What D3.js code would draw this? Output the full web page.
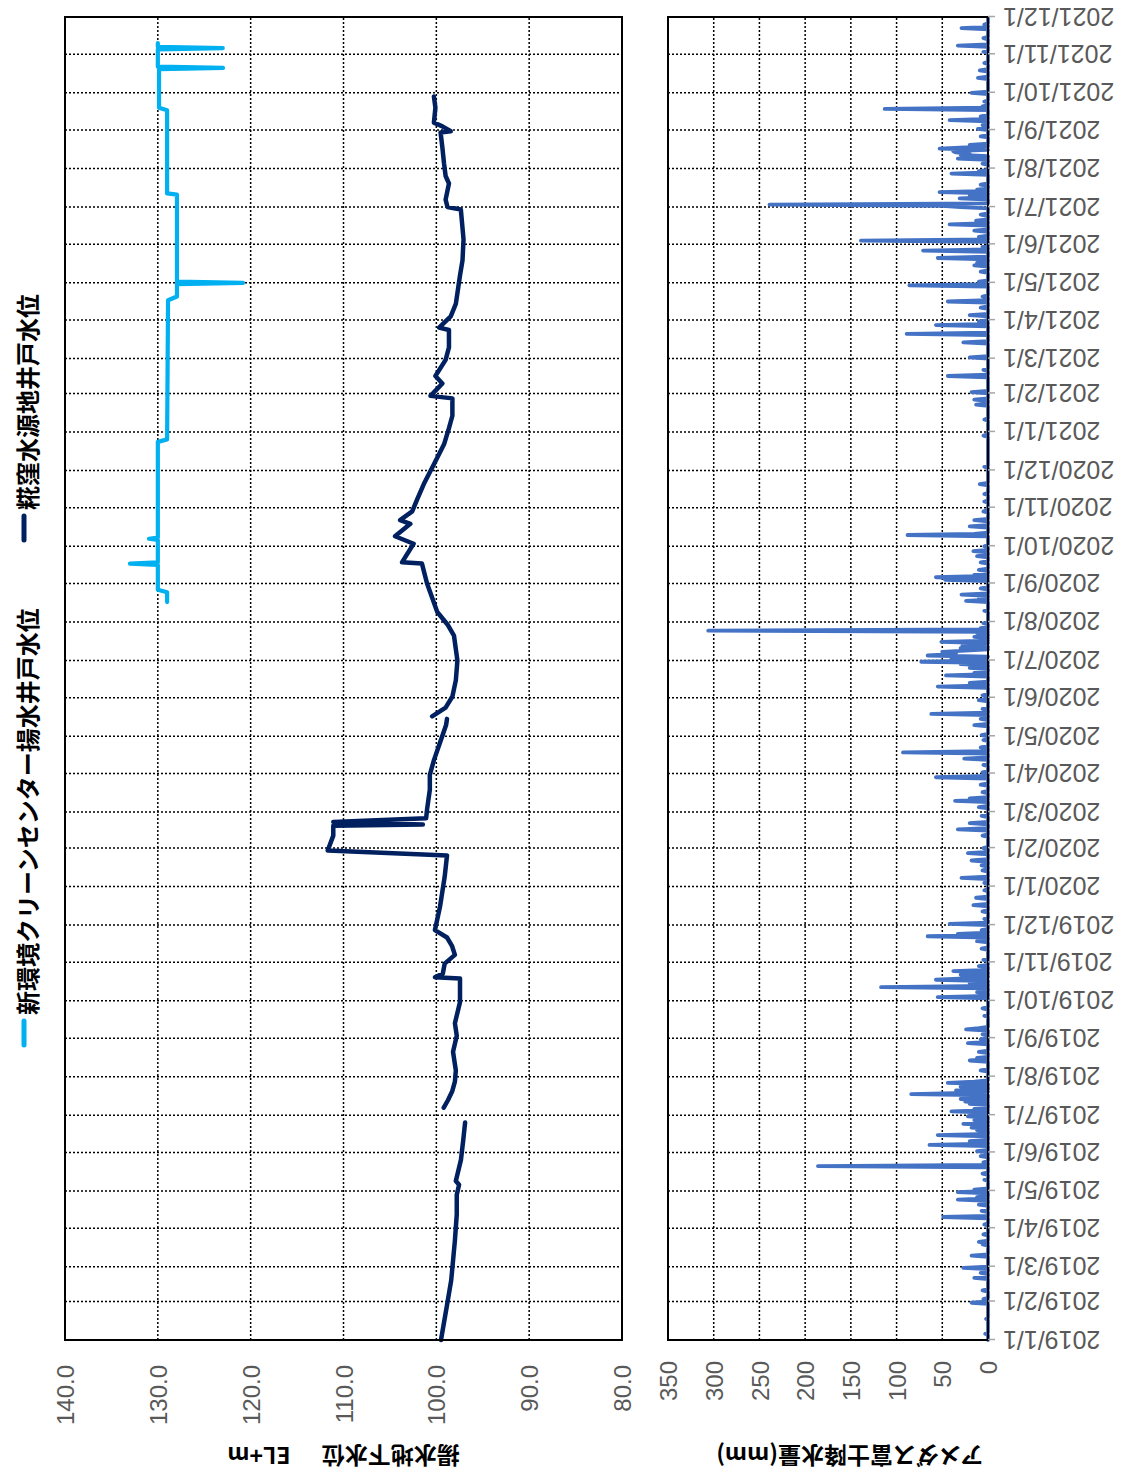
<!DOCTYPE html>
<html>
<head>
<meta charset="utf-8">
<script src="https://cdn.jsdelivr.net/npm/d3@7"></script>
<style>
  html, body { margin: 0; padding: 0; background: #ffffff; }
  svg { display: block; }
  text { font-family: "Liberation Sans", Arial, "Noto Sans CJK JP", sans-serif; }
  .jp { font-family: "Noto Sans CJK JP", "Noto Sans", sans-serif; font-weight: 700; }
</style>
</head>
<body>
<svg id="chart" width="1121" height="1475"></svg>
<script>
// ---- Series names / axis titles ----
const seriesNames = ["新環境クリーンセンター揚水井戸水位", "糀窪水源地井戸水位"];
const levelTitle = "揚水地下水位      EL+m";
const rainTitle = "アメダス富士降水量(mm)";

// ---- Tick values ----
const levelTicks = [80, 90, 100, 110, 120, 130, 140];
const rainTicks = [0, 50, 100, 150, 200, 250, 300, 350];
const dateStart = "2019-01-01";
const dateEnd = "2021-12-01";

// ---- 新環境クリーンセンター揚水井戸水位 (EL+m) ----
const cleanCenterLevel = [
  ["2020-08-17", 129.0], ["2020-08-25", 129.0], ["2020-08-27", 130.0], ["2020-09-16", 130.0],
  ["2020-09-17", 133.0], ["2020-09-18", 130.0], ["2020-10-06", 130.0], ["2020-10-07", 130.95],
  ["2020-10-08", 130.0], ["2020-12-24", 130.0], ["2020-12-26", 129.0], ["2021-04-17", 128.9],
  ["2021-04-20", 127.94], ["2021-04-30", 127.94], ["2021-05-01", 120.83], ["2021-05-02", 127.94],
  ["2021-07-11", 127.94], ["2021-07-12", 129.0], ["2021-09-17", 129.0], ["2021-09-19", 129.87],
  ["2021-10-20", 129.87], ["2021-10-21", 122.98], ["2021-10-22", 130.0], ["2021-11-05", 130.0],
  ["2021-11-06", 123.0], ["2021-11-07", 130.0], ["2021-11-10", 130.0]
];

// ---- 糀窪水源地井戸水位 (EL+m); null marks a break in the record ----
const kojikuboLevel = [
  ["2019-01-01", 99.5], ["2019-01-29", 98.85], ["2019-02-18", 98.4], ["2019-03-06", 98.2],
  ["2019-03-22", 98.0], ["2019-04-12", 97.8], ["2019-04-28", 97.8], ["2019-05-06", 97.55],
  ["2019-05-09", 97.9], ["2019-05-26", 97.35], ["2019-06-11", 97.1], ["2019-06-25", 96.9],
  ["2019-07-01", null],
  ["2019-07-07", 99.2], ["2019-07-13", 98.75], ["2019-07-20", 98.3], ["2019-07-28", 98.0],
  ["2019-08-06", 97.9], ["2019-08-21", 98.2], ["2019-09-03", 97.8], ["2019-09-13", 98.0],
  ["2019-09-30", 97.45], ["2019-10-19", 97.45], ["2019-10-20", 100.15], ["2019-10-23", 99.3],
  ["2019-10-31", 99.1], ["2019-11-07", 98.0], ["2019-11-14", 98.3], ["2019-11-21", 98.85],
  ["2019-11-27", 100.15], ["2019-12-16", 99.6], ["2020-01-09", 99.1], ["2020-01-26", 98.85],
  ["2020-01-30", 111.7], ["2020-02-11", 111.1], ["2020-02-19", 111.1], ["2020-02-20", 101.45],
  ["2020-02-22", 111.1], ["2020-02-25", 101.1], ["2020-03-03", 101.0], ["2020-03-19", 100.7],
  ["2020-03-31", 100.7], ["2020-04-12", 100.25], ["2020-04-26", 99.6], ["2020-05-10", 98.95],
  ["2020-05-15", 98.85],
  ["2020-05-16", null],
  ["2020-05-17", 100.45], ["2020-05-24", 99.0], ["2020-06-02", 98.27], ["2020-06-15", 97.9],
  ["2020-07-01", 97.73], ["2020-07-21", 98.1], ["2020-07-30", 98.8], ["2020-08-09", 99.9],
  ["2020-09-01", 101.0], ["2020-09-17", 101.55], ["2020-09-18", 103.7], ["2020-10-03", 102.45],
  ["2020-10-09", 104.45], ["2020-10-19", 102.8], ["2020-10-22", 103.9], ["2020-10-29", 102.6],
  ["2020-11-07", 102.1], ["2020-11-20", 101.35], ["2020-12-06", 100.26], ["2020-12-22", 99.17],
  ["2021-01-04", 98.64], ["2021-01-14", 98.27], ["2021-01-28", 98.27], ["2021-01-30", 100.63],
  ["2021-02-09", 99.35], ["2021-02-15", 100.1], ["2021-02-28", 99.0], ["2021-03-10", 98.64],
  ["2021-03-24", 98.64], ["2021-03-26", 99.7], ["2021-04-04", 98.45], ["2021-04-14", 97.9],
  ["2021-05-07", 97.45], ["2021-05-19", 97.18], ["2021-06-05", 97.07], ["2021-06-29", 97.36],
  ["2021-07-01", 98.8], ["2021-07-07", 99.0], ["2021-07-20", 98.64], ["2021-07-26", 99.0],
  ["2021-08-05", 99.17], ["2021-08-18", 99.35], ["2021-08-30", 99.54], ["2021-08-31", 98.45],
  ["2021-09-04", 99.35], ["2021-09-07", 100.26], ["2021-09-19", 100.1], ["2021-09-28", 100.26]
];

// ---- アメダス富士 daily precipitation (mm); days not listed had no rain ----
const rainDays = [
  ["2019-01-06", 3], ["2019-01-18", 2], ["2019-01-31", 18], ["2019-02-03", 5], ["2019-02-10", 6],
  ["2019-02-20", 15], ["2019-02-24", 8], ["2019-02-28", 27], ["2019-03-10", 18], ["2019-03-19", 6],
  ["2019-03-21", 10], ["2019-03-27", 5], ["2019-04-04", 4], ["2019-04-10", 49], ["2019-04-15", 7],
  ["2019-04-20", 10], ["2019-04-24", 33], ["2019-04-26", 12], ["2019-04-30", 33], ["2019-05-02", 15],
  ["2019-05-10", 4], ["2019-05-15", 6], ["2019-05-21", 186], ["2019-05-24", 5], ["2019-05-29", 8],
  ["2019-06-02", 12], ["2019-06-07", 64], ["2019-06-10", 20], ["2019-06-15", 55], ["2019-06-19", 12],
  ["2019-06-21", 18], ["2019-06-24", 27], ["2019-06-27", 15], ["2019-06-30", 22], ["2019-07-01", 18],
  ["2019-07-04", 40], ["2019-07-06", 15], ["2019-07-10", 20], ["2019-07-12", 25], ["2019-07-14", 30],
  ["2019-07-18", 84], ["2019-07-19", 25], ["2019-07-21", 35], ["2019-07-24", 30], ["2019-07-27", 44],
  ["2019-07-28", 15], ["2019-08-06", 8], ["2019-08-14", 20], ["2019-08-16", 12], ["2019-08-21", 10],
  ["2019-08-28", 22], ["2019-08-31", 8], ["2019-09-04", 6], ["2019-09-08", 24], ["2019-09-09", 10],
  ["2019-09-19", 4], ["2019-09-25", 6], ["2019-10-04", 55], ["2019-10-08", 12], ["2019-10-12", 117],
  ["2019-10-15", 20], ["2019-10-18", 57], ["2019-10-19", 25], ["2019-10-22", 30], ["2019-10-25", 38],
  ["2019-10-29", 10], ["2019-11-03", 5], ["2019-11-12", 7], ["2019-11-18", 12], ["2019-11-22", 66],
  ["2019-11-24", 33], ["2019-11-27", 7], ["2019-12-02", 42], ["2019-12-06", 4], ["2019-12-12", 6],
  ["2019-12-17", 16], ["2019-12-23", 13], ["2019-12-29", 4],
  ["2020-01-04", 4], ["2020-01-08", 29], ["2020-01-14", 6], ["2020-01-18", 7], ["2020-01-22", 18],
  ["2020-01-28", 22], ["2020-02-01", 5], ["2020-02-11", 6], ["2020-02-16", 33], ["2020-02-21", 20],
  ["2020-02-27", 7], ["2020-03-05", 10], ["2020-03-10", 36], ["2020-03-12", 20], ["2020-03-17", 6],
  ["2020-03-23", 8], ["2020-03-29", 57], ["2020-04-02", 6], ["2020-04-08", 5], ["2020-04-13", 26],
  ["2020-04-18", 93], ["2020-04-22", 8], ["2020-04-28", 5], ["2020-05-02", 7], ["2020-05-10", 15],
  ["2020-05-15", 8], ["2020-05-19", 62], ["2020-05-23", 6], ["2020-05-30", 10], ["2020-06-03", 6],
  ["2020-06-10", 55], ["2020-06-13", 20], ["2020-06-19", 46], ["2020-06-21", 15], ["2020-06-25", 20],
  ["2020-06-28", 30], ["2020-06-30", 73], ["2020-07-02", 30], ["2020-07-03", 40], ["2020-07-05", 66],
  ["2020-07-06", 45], ["2020-07-07", 35], ["2020-07-08", 50], ["2020-07-09", 25], ["2020-07-11", 30],
  ["2020-07-13", 28], ["2020-07-14", 20], ["2020-07-16", 51], ["2020-07-18", 10], ["2020-07-20", 15],
  ["2020-07-23", 12], ["2020-07-25", 306], ["2020-07-27", 8], ["2020-07-31", 5], ["2020-08-10", 4],
  ["2020-08-18", 24], ["2020-08-20", 10], ["2020-08-23", 29], ["2020-08-28", 8], ["2020-09-04", 47],
  ["2020-09-06", 57], ["2020-09-08", 15], ["2020-09-12", 10], ["2020-09-18", 8], ["2020-09-23", 12],
  ["2020-09-27", 16], ["2020-10-01", 4], ["2020-10-10", 88], ["2020-10-11", 15], ["2020-10-17", 20],
  ["2020-10-22", 15], ["2020-10-29", 5], ["2020-11-06", 4], ["2020-11-12", 4], ["2020-11-20", 9],
  ["2020-12-04", 4], ["2020-12-29", 5],
  ["2021-01-11", 4], ["2021-01-23", 13], ["2021-01-27", 15], ["2021-02-02", 18], ["2021-02-15", 44],
  ["2021-02-20", 5], ["2021-03-02", 20], ["2021-03-14", 27], ["2021-03-21", 89], ["2021-03-28", 57],
  ["2021-03-31", 10], ["2021-04-05", 20], ["2021-04-11", 8], ["2021-04-16", 44], ["2021-04-20", 6],
  ["2021-04-29", 86], ["2021-05-02", 10], ["2021-05-10", 8], ["2021-05-15", 15], ["2021-05-17", 12],
  ["2021-05-21", 55], ["2021-05-27", 71], ["2021-05-30", 6], ["2021-06-04", 139], ["2021-06-07", 10],
  ["2021-06-12", 15], ["2021-06-17", 42], ["2021-06-20", 13], ["2021-06-25", 8], ["2021-07-01", 30],
  ["2021-07-02", 50], ["2021-07-03", 239], ["2021-07-08", 31], ["2021-07-10", 20], ["2021-07-13", 53],
  ["2021-07-15", 12], ["2021-07-19", 8], ["2021-07-28", 40], ["2021-07-30", 10], ["2021-08-05", 6],
  ["2021-08-09", 33], ["2021-08-12", 30], ["2021-08-13", 20], ["2021-08-14", 35], ["2021-08-15", 38],
  ["2021-08-17", 53], ["2021-08-18", 25], ["2021-08-20", 20], ["2021-08-27", 8], ["2021-09-02", 11],
  ["2021-09-05", 6], ["2021-09-09", 42], ["2021-09-12", 8], ["2021-09-18", 113], ["2021-09-20", 6],
  ["2021-09-24", 4], ["2021-10-01", 18], ["2021-10-13", 11], ["2021-10-19", 9], ["2021-10-25", 4],
  ["2021-11-03", 5], ["2021-11-08", 33], ["2021-11-14", 5], ["2021-11-22", 29], ["2021-11-25", 4]
];

// ---- Colours ----
const colCleanCenter = "#00B0F0";
const colKojikubo = "#002060";
const colRain = "#4472C4";

// ---------------------------------------------------------------------------
// The chart is laid out as a landscape figure (time running left→right),
// then the whole figure is turned a quarter turn counter-clockwise on the page.
const FRAME_W = 1475;           // landscape width  (page height)
const plotL = 135, plotR = 1458;
const levelT = 65, levelB = 622;
const rainT = 668, rainB = 988;

const parse = d3.timeParse("%Y-%m-%d");
const fmtKey = d3.timeFormat("%Y-%m-%d");

const x = d3.scaleTime().domain([parse(dateStart), parse(dateEnd)]).range([plotL, plotR]);
const yLevel = d3.scaleLinear().domain([80, 140]).range([levelB, levelT]);
const yRain = d3.scaleLinear().domain([0, 350]).range([rainB, rainT]);

const svg = d3.select("#chart");
const frame = svg.append("g").attr("transform", `translate(0,${FRAME_W}) rotate(-90)`);

const monthTicks = d3.timeMonth.range(parse(dateStart), d3.timeDay.offset(parse(dateEnd), 1));

function grid(top, bottom, yScale, values) {
  const g = frame.append("g")
    .attr("stroke", "#000").attr("stroke-width", 1.5)
    .attr("stroke-dasharray", "2,2").attr("fill", "none");
  g.selectAll("line.m").data(monthTicks.slice(1, -1)).join("line").attr("class", "m")
    .attr("x1", d => x(d)).attr("x2", d => x(d)).attr("y1", top).attr("y2", bottom);
  g.selectAll("line.v").data(values).join("line").attr("class", "v")
    .attr("x1", plotL).attr("x2", plotR).attr("y1", d => yScale(d)).attr("y2", d => yScale(d));
}
grid(levelT, levelB, yLevel, levelTicks.slice(1, -1));
grid(rainT, rainB, yRain, rainTicks.slice(1, -1));

// ---- Water-level lines ----
const toPts = arr => arr.map(([d, v]) => ({ date: parse(d), v }));
const levelLine = d3.line()
  .defined(d => d.v !== null)
  .x(d => x(d.date)).y(d => yLevel(d.v));

frame.append("path").datum(toPts(kojikuboLevel))
  .attr("d", levelLine).attr("fill", "none").attr("stroke", colKojikubo)
  .attr("stroke-width", 4.5).attr("stroke-linejoin", "round").attr("stroke-linecap", "round");

frame.append("path").datum(toPts(cleanCenterLevel))
  .attr("d", levelLine).attr("fill", "none").attr("stroke", colCleanCenter)
  .attr("stroke-width", 4.2).attr("stroke-linejoin", "round").attr("stroke-linecap", "round");

// ---- Daily rainfall line ----
const rainMap = new Map(rainDays);
const rainSeries = d3.timeDay.range(parse(dateStart), parse(dateEnd))
  .map(d => ({ date: d, mm: rainMap.has(fmtKey(d)) ? rainMap.get(fmtKey(d)) : 0 }));

frame.append("path").datum(rainSeries)
  .attr("d", d3.line().x(d => x(d.date)).y(d => yRain(d.mm)))
  .attr("fill", "none").attr("stroke", colRain)
  .attr("stroke-width", 3.8).attr("stroke-linejoin", "round").attr("stroke-linecap", "round");

// ---- Plot borders ----
[[levelT, levelB], [rainT, rainB]].forEach(([t, b]) => {
  frame.append("rect").attr("x", plotL).attr("y", t)
    .attr("width", plotR - plotL).attr("height", b - t)
    .attr("fill", "none").attr("stroke", "#000").attr("stroke-width", 2);
});

// ---- Value axes ----
const levelAxis = frame.append("g").attr("transform", `translate(${plotL},0)`)
  .call(d3.axisLeft(yLevel).tickValues(levelTicks).tickFormat(d3.format(".1f"))
    .tickSize(0).tickPadding(25));
const rainAxis = frame.append("g").attr("transform", `translate(${plotL},0)`)
  .call(d3.axisLeft(yRain).tickValues(rainTicks).tickFormat(d3.format("d"))
    .tickSize(0).tickPadding(21));
[levelAxis, rainAxis].forEach(a => {
  a.select(".domain").remove();
  a.selectAll("text").attr("font-size", 24).attr("fill", "#595959")
    .attr("font-family", "'Liberation Sans', Arial, sans-serif").attr("dy", "0.36em");
});

// ---- Date axis under the rainfall plot ----
const dateAxis = frame.append("g").attr("transform", `translate(0,${rainB})`)
  .call(d3.axisBottom(x).tickValues(monthTicks).tickFormat(d3.timeFormat("%Y/%-m/%-d"))
    .tickSize(7));
dateAxis.select(".domain").remove();
dateAxis.selectAll(".tick line").attr("stroke", "#a6a6a6").attr("stroke-width", 1.5);
dateAxis.selectAll("text")
  .attr("transform", "rotate(-90)")
  .attr("text-anchor", "end")
  .attr("x", -15).attr("y", 0).attr("dy", "0.36em")
  .attr("font-size", 25).attr("fill", "#595959")
  .attr("font-family", "'Liberation Sans', Arial, sans-serif");

// ---- Axis titles ----
frame.append("text").attr("class", "jp")
  .attr("transform", `translate(20,${(levelT + levelB) / 2}) rotate(-90)`)
  .attr("text-anchor", "middle").attr("dy", "0.36em")
  .attr("font-size", 23).attr("fill", "#000")
  .style("white-space", "pre").text(levelTitle);

frame.append("text").attr("class", "jp")
  .attr("transform", `translate(20,850) rotate(-90)`)
  .attr("text-anchor", "middle").attr("dy", "0.36em")
  .attr("font-size", 23).attr("fill", "#000").text(rainTitle);

// ---- Legend ----
const legend = frame.append("g");
const legendItems = [
  { name: seriesNames[0], color: colCleanCenter, x0: 430 },
  { name: seriesNames[1], color: colKojikubo, x0: 935 }
];
legendItems.forEach(it => {
  legend.append("line").attr("x1", it.x0).attr("x2", it.x0 + 24)
    .attr("y1", 24).attr("y2", 24)
    .attr("stroke", it.color).attr("stroke-width", 5).attr("stroke-linecap", "round");
  legend.append("text").attr("class", "jp")
    .attr("x", it.x0 + 30).attr("y", 28).attr("dy", "0.36em")
    .attr("font-size", 24).attr("fill", "#000").text(it.name);
});
</script>
</body>
</html>
